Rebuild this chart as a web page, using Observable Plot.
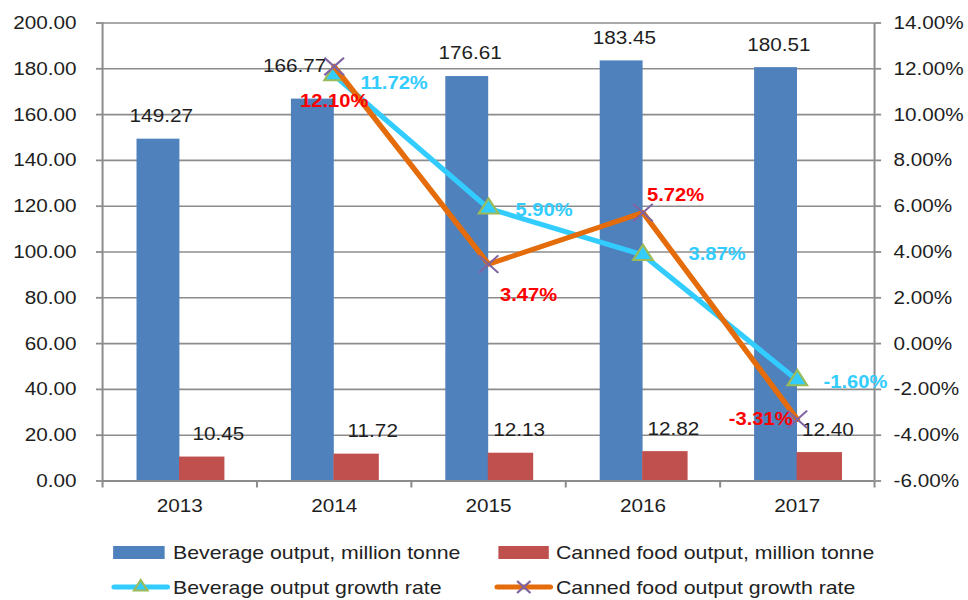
<!DOCTYPE html>
<html><head><meta charset="utf-8">
<script src="https://cdn.jsdelivr.net/npm/d3@7"></script>
<script src="https://cdn.jsdelivr.net/npm/@observablehq/plot@0.6"></script>
<style>
html,body{margin:0;padding:0;background:#fff;}
#wrap{position:relative;width:968px;height:600px;overflow:hidden;background:#fff;}
#inner{position:absolute;left:0;top:0;transform-origin:0 0;}
.leg{position:absolute;font-family:"Liberation Sans",Arial,sans-serif;font-size:19px;color:#222;white-space:nowrap;line-height:1;}
.sw{position:absolute;}
</style></head><body>
<div id="wrap"><div id="inner"></div></div>
<script>
// ---- data ----
const years = ["2013", "2014", "2015", "2016", "2017"];
const beverageOutput = [149.27, 166.77, 176.61, 183.45, 180.51];
const cannedOutput = [10.45, 11.72, 12.13, 12.82, 12.40];
const beverageGrowth = [null, 11.72, 5.90, 3.87, -1.60];
const cannedGrowth = [null, 12.10, 3.47, 5.72, -3.31];
const leftTicks = [0, 20, 40, 60, 80, 100, 120, 140, 160, 180, 200];
const rightTicks = [-6, -4, -2, 0, 2, 4, 6, 8, 10, 12, 14];
const seriesNames = ["Beverage output, million tonne", "Canned food output, million tonne",
  "Beverage output growth rate", "Canned food output growth rate"];

// ---- layout ----
const S = 1.12;             // horizontal stretch of the reference
const px = v => v / S;
const W = 968 / S, H = 525;
const C = {blue: "#4F81BD", red: "#C0504D", cyan: "#33CCFF", orange: "#E46C0A",
  tri: "#9BBB59", x: "#8064A2", grid: "#8c8c8c", text: "#1e1e1e", lblRed: "#FF0000"};

const l0 = leftTicks[0], l1 = leftTicks[leftTicks.length - 1];
const r0 = rightTicks[0], r1 = rightTicks[rightTicks.length - 1];
const yOf = r => (r - r0) * (l1 - l0) / (r1 - r0) + l0;
const rOf = v => (v - l0) * (r1 - r0) / (l1 - l0) + r0;

const rows = years.map((y, i) => ({i, year: y, bev: beverageOutput[i], can: cannedOutput[i],
  bg: beverageGrowth[i], cg: cannedGrowth[i]}));
const bgRows = rows.filter(d => d.bg != null);
const cgRows = rows.filter(d => d.cg != null);

const fmt2 = v => v.toFixed(2);
const pct = v => v.toFixed(2) + "%";
const mid = d => d.i + 0.5;

const marks = [
  Plot.gridY(leftTicks, {stroke: C.grid, strokeOpacity: 1, strokeWidth: 1.6}),
  Plot.rectY(rows, {x1: "i", x2: d => d.i + 1, y1: 0, y2: "bev", fill: C.blue,
    insetLeft: px(34.5), insetRight: px(77)}),
  Plot.rectY(rows, {x1: "i", x2: d => d.i + 1, y1: 0, y2: "can", fill: C.red,
    insetLeft: px(77), insetRight: px(32)}),
  Plot.ruleX([0, years.length], {stroke: C.grid, strokeWidth: 1.8}),
  Plot.ruleY([l0], {stroke: C.grid, strokeWidth: 1.8}),
  Plot.axisX(d3.range(0, years.length + 1), {tickSize: 7, tickFormat: () => "",
    stroke: C.grid, strokeWidth: 1.8, label: null}),
  Plot.axisX(years.map((_, i) => i + 0.5), {tickSize: 0, tickPadding: 17.5,
    tickFormat: v => years[Math.floor(v)], fill: C.text, label: null}),
  Plot.axisY(leftTicks, {anchor: "left", tickSize: px(6), tickPadding: px(20),
    tickFormat: fmt2, stroke: C.grid, strokeWidth: 1.8, fill: C.text, label: null}),
  Plot.axisY(leftTicks, {anchor: "right", tickSize: px(6), tickPadding: px(13),
    tickFormat: v => pct(rOf(v)), stroke: C.grid, strokeWidth: 1.8, fill: C.text, label: null}),
  // value labels of bars
  Plot.text(rows.filter(d => d.i !== 1), {x: mid, y: "bev", text: d => fmt2(d.bev),
    dx: px(-18.5), dy: -23, fill: C.text}),
  Plot.text(rows.filter(d => d.i === 1), {x: mid, y: "bev", text: d => fmt2(d.bev),
    dx: px(-39.6), dy: -33, fill: C.text}),
  Plot.text(rows.filter(d => d.i < 2), {x: mid, y: "can", text: d => fmt2(d.can),
    dx: px(38.6), dy: -23, fill: C.text}),
  Plot.text(rows.filter(d => d.i >= 2), {x: mid, y: "can", text: d => fmt2(d.can),
    dx: px(30.5), dy: -23, fill: C.text}),
  // growth lines
  Plot.line(bgRows, {x: mid, y: d => yOf(d.bg), stroke: C.cyan, strokeWidth: 5,
    strokeLinejoin: "round"}),
  Plot.dot(bgRows, {x: mid, y: d => yOf(d.bg), symbol: "triangle", r: 6.5,
    fill: C.cyan, stroke: C.tri, strokeWidth: 2}),
  Plot.line(cgRows, {x: mid, y: d => yOf(d.cg), stroke: C.orange, strokeWidth: 5,
    strokeLinejoin: "round"}),
  Plot.dot(cgRows, {x: mid, y: d => yOf(d.cg), symbol: "times", r: 8,
    stroke: C.x, strokeWidth: 2})
];

// growth labels placement [dx (reference px), dy, anchor]
const bgLabelPos = {1: [26.4, 8, "start"], 2: [27, 2, "start"], 3: [45.6, -1, "start"], 4: [26.2, 2, "start"]};
const cgLabelPos = {1: [0, 35, "middle"], 2: [40, 31, "middle"], 3: [32.6, -17, "middle"], 4: [-4.8, 0, "end"]};
for (const d of bgRows) {
  const [dx, dy, a] = bgLabelPos[d.i];
  marks.push(Plot.text([d], {x: mid, y: e => yOf(e.bg), text: e => pct(e.bg), dx: px(dx), dy,
    textAnchor: a, fill: C.cyan, fontWeight: "bold", fontSize: 18}));
}
for (const d of cgRows) {
  const [dx, dy, a] = cgLabelPos[d.i];
  marks.push(Plot.text([d], {x: mid, y: e => yOf(e.cg), text: e => pct(e.cg), dx: px(dx), dy,
    textAnchor: a, fill: C.lblRed, fontWeight: "bold", fontSize: 18}));
}

const chart = Plot.plot({
  width: W, height: H,
  marginLeft: px(102), marginRight: px(94), marginTop: 22.5, marginBottom: H - 480.5,
  x: {type: "linear", domain: [0, years.length]},
  y: {domain: [l0, l1]},
  style: {fontFamily: "'Liberation Sans', Arial, sans-serif", fontSize: "18.5px",
    color: C.text, background: "transparent", overflow: "visible"},
  marks
});

const inner = document.getElementById("inner");
inner.style.width = W + "px";
inner.style.height = (600) + "px";
inner.style.transform = `scaleX(${S})`;
inner.appendChild(chart);

// ---- legend ----
function addText(txt, xRef, yCenter) {
  const el = document.createElement("div");
  el.className = "leg";
  el.textContent = txt;
  el.style.left = px(xRef) + "px";
  el.style.top = (yCenter - 9.3) + "px";
  inner.appendChild(el);
}
function addBox(xRef, wRef, yCenter, color) {
  const el = document.createElement("div");
  el.className = "sw";
  el.style.left = px(xRef) + "px";
  el.style.width = px(wRef) + "px";
  el.style.top = (yCenter - 6.5) + "px";
  el.style.height = "13px";
  el.style.background = color;
  inner.appendChild(el);
}
function addLineSwatch(xRef, wRef, yCenter, color, marker) {
  const w = px(wRef);
  const svg = d3.create("svg").attr("width", w + 20).attr("height", 24)
    .style("position", "absolute").style("left", (px(xRef) - 10) + "px")
    .style("top", (yCenter - 12) + "px").style("overflow", "visible");
  svg.append("line").attr("x1", 10).attr("x2", 10 + w).attr("y1", 12).attr("y2", 12)
    .attr("stroke", color).attr("stroke-width", 5).attr("stroke-linecap", "round");
  const cx = 10 + w / 2;
  if (marker === "triangle") {
    svg.append("path").attr("d", d3.symbol(d3.symbolTriangle, Math.PI * 4.5 * 4.5)())
      .attr("transform", `translate(${cx},12)`).attr("fill", C.cyan)
      .attr("stroke", C.tri).attr("stroke-width", 2);
  } else {
    svg.append("path").attr("d", d3.symbol(d3.symbolTimes, Math.PI * 5.5 * 5.5)())
      .attr("transform", `translate(${cx},12)`).attr("fill", "none")
      .attr("stroke", C.x).attr("stroke-width", 2);
  }
  inner.appendChild(svg.node());
}
addBox(113, 52, 552, C.blue); addText(seriesNames[0], 173, 552);
addBox(498, 51, 552, C.red); addText(seriesNames[1], 556, 552);
addLineSwatch(114, 53, 587, C.cyan, "triangle"); addText(seriesNames[2], 173, 587);
addLineSwatch(497, 53, 587, C.orange, "times"); addText(seriesNames[3], 556, 587);
</script>
</body></html>
